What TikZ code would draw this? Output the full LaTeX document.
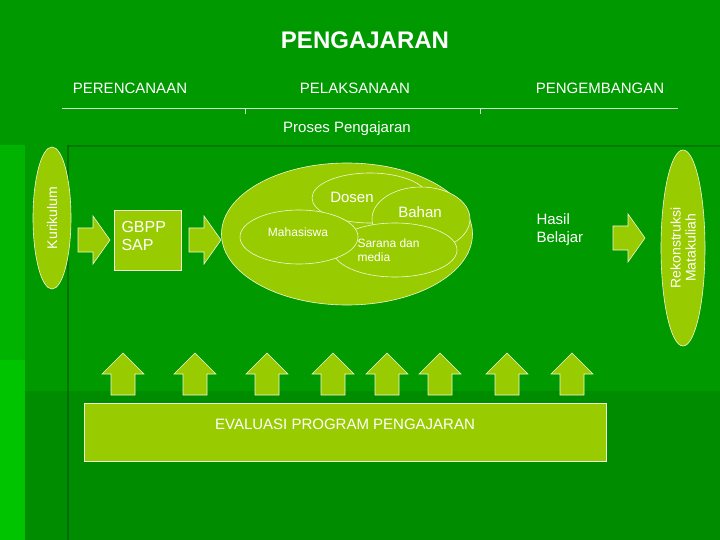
\documentclass[tikz,border=0pt]{standalone}
\usepackage{fontspec}
\setmainfont{Liberation Sans}
\usetikzlibrary{shapes.geometric}
\definecolor{bg}{HTML}{009A00}
\definecolor{bgdark}{HTML}{008C00}
\definecolor{bgl}{HTML}{00C400}
\definecolor{lime}{HTML}{99CC00}
\begin{document}
\begin{tikzpicture}[x=1pt,y=-1pt,
 lbl/.style={text=white,font=\fontsize{15}{17}\selectfont},
 limefill/.style={fill=lime,draw=white!85!lime,line width=0.6pt},
 ell/.style={limefill,ellipse,inner sep=0pt}]
\newcommand{\rarr}[2]{\draw[limefill] (#1,#2) ++(-15,-12) -- ++(15,0) -- ++(0,-12) -- ++(17,24) -- ++(-17,24) -- ++(0,-12) -- ++(-15,0) -- cycle;}
\newcommand{\uarr}[1]{\draw[limefill] (#1,395) -- ++(-12,0) -- ++(0,-21) -- ++(-9,0) -- ++(21,-21) -- ++(21,21) -- ++(-9,0) -- ++(0,21) -- cycle;}
\useasboundingbox (0,0) rectangle (720,540);
\fill[bg] (0,0) rectangle (720,540);
\fill[bgl] (0,360) rectangle (25,540);
\fill[bgl!60!bg] (0,145) rectangle (25,360);
\fill[bgdark] (25,391) rectangle (720,540);
\draw[green!30!black,line width=2pt,opacity=.5] (68,145) -- (68,540);
\draw[green!30!black,line width=2pt,opacity=.4] (68,146) -- (720,146);
\node[text=white,font=\bfseries\fontsize{24}{28}\selectfont] (title) at (365,40) {PENGAJARAN};
\node[lbl] (p1) at (130,88) {PERENCANAAN};
\node[lbl] (p2) at (355,88) {PELAKSANAAN};
\node[lbl] (p3) at (600,88) {PENGEMBANGAN};
\draw[white!80!bg,line width=0.6pt] (62,108) -- (678,108) (245,108) -- (245,114) (480,108) -- (480,114);
\node[lbl] (pp) at (347,129) {Proses Pengajaran};
\node[ell,minimum width=38,minimum height=142] (kur) at (52,218) {};
\node[rotate=90,text=white,font=\fontsize{14}{16}\selectfont] at (kur) {Kurikulum};
\rarr{93}{240}
\node[limefill,minimum width=67,minimum height=60,inner sep=0pt] (gb) at (147.5,240) {};
\node[text=white,font=\fontsize{16}{18}\selectfont,align=left,anchor=west] at (118,236) {GBPP\\SAP};
\rarr{204}{240}
\node[ell,minimum width=251,minimum height=142] (big) at (347,234) {};
\node[ell,minimum width=116,minimum height=50] (dos) at (370,198) {};
\node[ell,minimum width=98,minimum height=64] (bah) at (421,219) {};
\node[ell,minimum width=124,minimum height=54] (sar) at (395,250) {};
\node[ell,minimum width=118,minimum height=54] (mah) at (299,237) {};
\node[text=white,font=\fontsize{15}{17}\selectfont] at (352,197) {Dosen};
\node[text=white,font=\fontsize{15}{17}\selectfont] at (420,212) {Bahan};
\node[text=white,font=\fontsize{12}{14}\selectfont] at (298,232) {Mahasiswa};
\node[text=white,font=\fontsize{12}{14}\selectfont,align=left,anchor=west] at (354,250) {Sarana dan\\media};
\node[text=white,font=\fontsize{15}{18}\selectfont,align=left,anchor=west] (hb) at (533,230) {Hasil\\Belajar};
\rarr{628}{238}
\node[ell,minimum width=44,minimum height=196] (rek) at (683,248) {};
\node[rotate=90,text=white,font=\fontsize{14}{15}\selectfont,align=center] at (rek) {Rekonstruksi\\Matakuliah};
\foreach \x in {123,195,267,333,387,440,507,572} \uarr{\x}
\node[limefill,minimum width=522,minimum height=58,inner sep=0pt] (ev) at (345,432) {};
\node[text=white,font=\fontsize{15}{17}\selectfont] at (345,424) {EVALUASI PROGRAM PENGAJARAN};
\end{tikzpicture}
\end{document}
